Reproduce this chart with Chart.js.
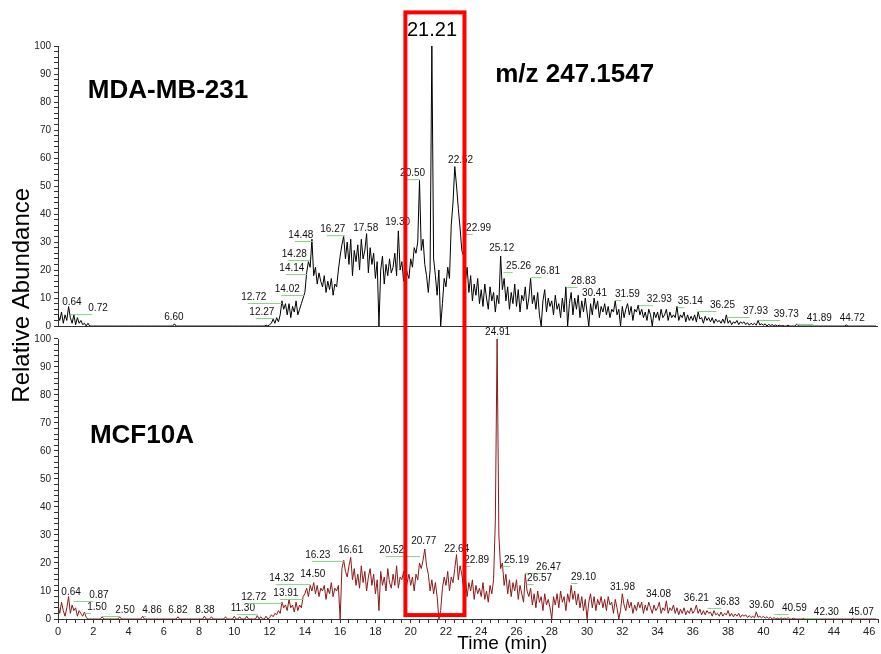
<!DOCTYPE html>
<html>
<head>
<meta charset="utf-8">
<script src="https://cdn.jsdelivr.net/npm/chart.js@4.4.1/dist/chart.umd.min.js"></script>
<style>
  html, body { margin: 0; padding: 0; background: #fff; }
  #wrap { width: 881px; height: 654px; }
</style>
</head>
<body>
<div id="wrap"><canvas id="myChart" width="881" height="654"></canvas></div>
<script>
// retention time grid (min), one row per minute
const times = [
  0.0, 0.1, 0.2, 0.3, 0.4, 0.5, 0.6, 0.7, 0.8, 0.9,
  1.0, 1.1, 1.2, 1.3, 1.4, 1.5, 1.6, 1.7, 1.8, 1.9,
  2.0, 2.1, 2.2, 2.3, 2.4, 2.5, 2.6, 2.7, 2.8, 2.9,
  3.0, 3.1, 3.2, 3.3, 3.4, 3.5, 3.6, 3.7, 3.8, 3.9,
  4.0, 4.1, 4.2, 4.3, 4.4, 4.5, 4.6, 4.7, 4.8, 4.9,
  5.0, 5.1, 5.2, 5.3, 5.4, 5.5, 5.6, 5.7, 5.8, 5.9,
  6.0, 6.1, 6.2, 6.3, 6.4, 6.5, 6.6, 6.7, 6.8, 6.9,
  7.0, 7.1, 7.2, 7.3, 7.4, 7.5, 7.6, 7.7, 7.8, 7.9,
  8.0, 8.1, 8.2, 8.3, 8.4, 8.5, 8.6, 8.7, 8.8, 8.9,
  9.0, 9.1, 9.2, 9.3, 9.4, 9.5, 9.6, 9.7, 9.8, 9.9,
  10.0, 10.1, 10.2, 10.3, 10.4, 10.5, 10.6, 10.7, 10.8, 10.9,
  11.0, 11.1, 11.2, 11.3, 11.4, 11.5, 11.6, 11.7, 11.8, 11.9,
  12.0, 12.1, 12.2, 12.3, 12.4, 12.5, 12.6, 12.7, 12.8, 12.9,
  13.0, 13.1, 13.2, 13.3, 13.4, 13.5, 13.6, 13.7, 13.8, 13.9,
  14.0, 14.1, 14.2, 14.3, 14.4, 14.5, 14.6, 14.7, 14.8, 14.9,
  15.0, 15.1, 15.2, 15.3, 15.4, 15.5, 15.6, 15.7, 15.8, 15.9,
  16.0, 16.1, 16.2, 16.3, 16.4, 16.5, 16.6, 16.7, 16.8, 16.9,
  17.0, 17.1, 17.2, 17.3, 17.4, 17.5, 17.6, 17.7, 17.8, 17.9,
  18.0, 18.1, 18.2, 18.3, 18.4, 18.5, 18.6, 18.7, 18.8, 18.9,
  19.0, 19.1, 19.2, 19.3, 19.4, 19.5, 19.6, 19.7, 19.8, 19.9,
  20.0, 20.1, 20.2, 20.3, 20.4, 20.5, 20.6, 20.7, 20.8, 20.9,
  21.0, 21.1, 21.2, 21.3, 21.4, 21.5, 21.6, 21.7, 21.8, 21.9,
  22.0, 22.1, 22.2, 22.3, 22.4, 22.5, 22.6, 22.7, 22.8, 22.9,
  23.0, 23.1, 23.2, 23.3, 23.4, 23.5, 23.6, 23.7, 23.8, 23.9,
  24.0, 24.1, 24.2, 24.3, 24.4, 24.5, 24.6, 24.7, 24.8, 24.9,
  25.0, 25.1, 25.2, 25.3, 25.4, 25.5, 25.6, 25.7, 25.8, 25.9,
  26.0, 26.1, 26.2, 26.3, 26.4, 26.5, 26.6, 26.7, 26.8, 26.9,
  27.0, 27.1, 27.2, 27.3, 27.4, 27.5, 27.6, 27.7, 27.8, 27.9,
  28.0, 28.1, 28.2, 28.3, 28.4, 28.5, 28.6, 28.7, 28.8, 28.9,
  29.0, 29.1, 29.2, 29.3, 29.4, 29.5, 29.6, 29.7, 29.8, 29.9,
  30.0, 30.1, 30.2, 30.3, 30.4, 30.5, 30.6, 30.7, 30.8, 30.9,
  31.0, 31.1, 31.2, 31.3, 31.4, 31.5, 31.6, 31.7, 31.8, 31.9,
  32.0, 32.1, 32.2, 32.3, 32.4, 32.5, 32.6, 32.7, 32.8, 32.9,
  33.0, 33.1, 33.2, 33.3, 33.4, 33.5, 33.6, 33.7, 33.8, 33.9,
  34.0, 34.1, 34.2, 34.3, 34.4, 34.5, 34.6, 34.7, 34.8, 34.9,
  35.0, 35.1, 35.2, 35.3, 35.4, 35.5, 35.6, 35.7, 35.8, 35.9,
  36.0, 36.1, 36.2, 36.3, 36.4, 36.5, 36.6, 36.7, 36.8, 36.9,
  37.0, 37.1, 37.2, 37.3, 37.4, 37.5, 37.6, 37.7, 37.8, 37.9,
  38.0, 38.1, 38.2, 38.3, 38.4, 38.5, 38.6, 38.7, 38.8, 38.9,
  39.0, 39.1, 39.2, 39.3, 39.4, 39.5, 39.6, 39.7, 39.8, 39.9,
  40.0, 40.1, 40.2, 40.3, 40.4, 40.5, 40.6, 40.7, 40.8, 40.9,
  41.0, 41.1, 41.2, 41.3, 41.4, 41.5, 41.6, 41.7, 41.8, 41.9,
  42.0, 42.1, 42.2, 42.3, 42.4, 42.5, 42.6, 42.7, 42.8, 42.9,
  43.0, 43.1, 43.2, 43.3, 43.4, 43.5, 43.6, 43.7, 43.8, 43.9,
  44.0, 44.1, 44.2, 44.3, 44.4, 44.5, 44.6, 44.7, 44.8, 44.9,
  45.0, 45.1, 45.2, 45.3, 45.4, 45.5, 45.6, 45.7, 45.8, 45.9,
  46.0, 46.1, 46.2, 46.3, 46.4
];

// relative abundance, MDA-MB-231 (top trace)
const mdaValues = [
  4, 2, 5, 1, 4, 2, 7, 3, 1, 4,
  0.5, 3, 1, 2, 0.5, 1, 0, 1, 0, 0,
  0, 0, 0, 0, 0, 0, 0, 0, 0, 0,
  0, 0, 0, 0, 0, 0, 0, 0, 0, 0,
  0, 0, 0, 0, 0, 0, 0, 0, 0, 0,
  0, 0, 0, 0, 0, 0, 0, 0, 0, 0,
  0, 0, 0, 0, 0, 0, 0.8, 0, 0, 0,
  0, 0, 0, 0, 0, 0, 0, 0, 0, 0,
  0, 0, 0, 0, 0, 0, 0, 0, 0, 0,
  0, 0, 0, 0, 0, 0, 0, 0, 0, 0,
  0, 0, 0, 0, 0, 0, 0, 0, 0, 0,
  0, 0, 0, 0, 0, 0, 0, 0, 0.3, 0,
  0.5, 1, 2.5, 1, 3, 1.5, 4, 9, 6, 8,
  4, 8, 3, 7, 5, 9, 4, 6, 8, 10,
  12, 19, 23, 21, 31, 18, 21, 15, 19, 16,
  14, 18, 12, 16, 13, 17, 11, 15, 14, 20,
  25, 29, 32, 24, 30, 22, 31, 18, 27, 23,
  29, 20, 31, 24, 27, 33, 19, 28, 22, 26,
  17, 23, 0, 20, 25, 15, 22, 18, 24, 19,
  21, 26, 18, 34, 20, 23, 16, 22, 19, 17,
  24, 21, 28, 26, 30, 52, 27, 31, 22, 18,
  12, 20, 100, 24, 18, 11, 20, 0, 8, 17,
  14, 21, 17, 36, 44, 57, 50, 42, 35, 27,
  25, 16, 21, 12, 18, 9, 15, 11, 17, 8,
  13, 7, 15, 10, 6, 14, 9, 12, 5, 11,
  8, 25, 13, 17, 9, 14, 6, 12, 8, 15,
  7, 13, 5, 11, 9, 14, 6, 10, 17, 8,
  11, 6, 12, 4, 0, 9, 13, 5, 10, 7,
  9, 4, 11, 6, 8, 3, 10, 5, 14, 0,
  8, 12, 4, 10, 6, 11, 3, 9, 5, 10,
  5, 0, 8, 4, 10, 6, 9, 3, 7, 5,
  8, 4, 7, 3, 6, 5, 9, 4, 6, 0,
  7, 3, 6, 8, 4, 7, 2, 6, 5, 7.5,
  4, 6, 3, 5, 2, 6, 4, 0, 5, 3,
  5, 2, 6, 3, 4, 6, 2, 5, 3, 4,
  3, 7, 2, 4, 3, 5, 1.5, 4, 2, 3.5,
  2, 4, 1.5, 5, 2.5, 3, 1, 3.5, 2, 3,
  1.5, 3, 1, 2.5, 1.5, 2, 1, 2.5, 1, 4,
  1, 2, 0.5, 1.5, 1, 2, 0.5, 1.5, 1, 1.5,
  0.5, 1.2, 0.3, 1, 0.5, 1, 0.3, 2, 0.4, 0.8,
  0.3, 0.8, 0, 0.6, 0.2, 0.5, 0, 0.4, 0, 0.3,
  0, 0.2, 0, 0, 0.3, 0, 0, 0, 0, 0.8,
  0, 0, 0, 0, 0, 0, 0, 0, 0, 0,
  0, 0, 0, 0, 0, 0, 0, 0, 0, 0,
  0, 0, 0, 0, 0, 0, 0, 0.4, 0, 0,
  0, 0, 0, 0, 0, 0, 0, 0, 0, 0,
  0, 0, 0, 0, 0
];

// relative abundance, MCF10A (bottom trace)
const mcfValues = [
  5, 2, 6, 3, 1, 4, 8, 2, 5, 3,
  4, 1, 3, 2, 1, 2.5, 0.5, 0, 0, 0,
  0, 0, 0, 0, 0, 0.8, 0, 0, 0, 0,
  0, 0, 0, 0, 0, 0.8, 0, 0, 0, 0,
  0, 0, 0, 0, 0, 0, 0, 0, 1, 0,
  0, 0, 0, 0, 0, 0, 0, 0, 0, 0,
  0, 0, 0, 0, 0, 0, 0, 0, 0.8, 0,
  0, 0, 0, 0, 0, 0, 0, 0, 0, 0,
  0, 0, 0, 1, 0, 0, 0, 0.8, 0, 0,
  0, 0, 0, 0, 0, 0.8, 0, 0, 0, 0,
  1, 0, 0, 0.8, 0, 0, 0, 1, 0, 0,
  0, 0, 0, 1.2, 0, 0.8, 0, 0, 1, 0,
  0.5, 1.5, 0.8, 2, 1.5, 3, 2, 6, 4, 5,
  3, 7, 4, 5, 2.5, 6, 3, 5, 4, 8,
  9, 11, 8, 12, 10, 13, 9, 12, 8, 11,
  10, 12, 7, 11, 9, 13, 8, 11, 10, 12,
  0, 18, 21, 17, 15, 19, 22, 14, 18, 12,
  16, 11, 19, 13, 17, 10, 15, 18, 12, 16,
  9, 14, 3, 17, 12, 15, 10, 18, 13, 11,
  16, 12, 19, 11, 15, 14, 17, 10, 13, 16,
  12, 15, 10, 16, 14, 20, 18, 21, 25, 19,
  16, 10, 14, 9, 13, 8, 0, 3, 11, 15,
  12, 17, 10, 15, 13, 18, 23, 14, 19, 16,
  11, 15, 8, 13, 10, 14, 7, 12, 9, 11,
  8, 13, 7, 10, 6, 12, 9, 14, 35, 100,
  30, 18, 20, 12, 16, 9, 14, 8, 13, 10,
  14, 7, 12, 9, 6, 16, 10, 8, 11, 5,
  9, 4, 10, 6, 8, 3, 9, 5, 7, 4,
  0, 8, 5, 9, 4, 10, 6, 8, 3, 9,
  6, 12, 7, 10, 5, 9, 4, 8, 3, 7,
  0, 6, 9, 4, 8, 3, 7, 5, 8, 4,
  7, 3, 8, 5, 6, 2, 7, 4, 0, 3,
  9, 5, 3, 7, 4, 6, 2, 5, 3, 6,
  4, 6, 2, 5, 3, 6, 4, 2, 5, 3,
  4, 6, 2, 4, 3, 6.5, 2, 4, 3, 5,
  2, 4, 1.5, 3.5, 2, 4, 1.5, 3, 2, 4,
  2, 3, 5, 2, 3.5, 1.5, 3, 1.5, 3, 2,
  2.5, 1, 3, 1.5, 2, 1, 2.5, 1, 2, 1.5,
  3, 1, 2, 0.8, 1.8, 1, 2, 0.6, 1.5, 1,
  1.5, 0.5, 1.2, 0.5, 1, 0.4, 2.5, 0.6, 1, 0.4,
  1, 0.3, 0.8, 0.2, 0.6, 0, 0.5, 0, 0.3, 0,
  0.4, 0, 0.3, 0, 0.5, 0, 0, 0.3, 0, 0,
  0, 0, 0, 0.3, 0, 0, 0, 0, 0, 0,
  0, 0, 0, 0, 0, 0, 0, 0, 0, 0,
  0, 0, 0, 0, 0, 0, 0, 0, 0, 0,
  0, 0.3, 0, 0, 0, 0, 0, 0, 0, 0,
  0, 0, 0, 0, 0
];

// peak annotations: retention time, and where the label sits (min, abundance)
const mdaPeakRt = [0.64, 0.72, 6.60, 12.27, 12.72, 14.02, 14.14, 14.28, 14.48, 16.27, 17.58, 19.30, 20.50, 22.52,
  22.99, 25.12, 25.26, 26.81, 28.83, 30.41, 31.59, 32.93, 35.14, 36.25, 37.93, 39.73, 41.89, 44.72];
const mdaLabelRt = [0.79, 2.27, 6.57, 11.56, 11.10, 13.0, 13.26, 13.4, 13.77, 15.58, 17.45, 19.26, 20.11, 22.83,
  23.85, 25.16, 26.12, 27.76, 29.80, 30.42, 32.29, 34.10, 35.86, 37.68, 39.55, 41.30, 43.17, 45.04];
const mdaLabelAb = [8.6, 6.4, 3.2, 5.0, 10.4, 13.2, 20.7, 25.7, 32.5, 34.6, 35.0, 37.1, 54.6, 59.3,
  35.0, 27.9, 21.4, 19.6, 16.1, 11.8, 11.4, 9.6, 8.9, 7.5, 5.4, 4.3, 2.9, 2.9];

const mcfPeakRt = [0.64, 0.87, 1.50, 2.50, 4.86, 6.82, 8.38, 11.30, 12.72, 13.91, 14.32, 14.50, 16.23, 16.61, 20.52, 20.77,
  22.64, 22.89, 24.91, 25.19, 26.47, 26.57, 29.10, 31.98, 34.08, 36.21, 36.83, 39.60, 40.59, 42.30, 45.07];
const mcfLabelRt = [0.74, 2.32, 2.21, 3.80, 5.33, 6.80, 8.33, 10.48, 11.10, 12.92, 12.69, 14.45, 14.73, 16.60, 18.92, 20.74,
  22.61, 23.74, 24.93, 26.00, 27.82, 27.31, 29.80, 32.01, 34.05, 36.20, 37.96, 39.89, 41.76, 43.57, 45.55];
const mcfLabelAb = [9.6, 8.6, 4.3, 3.2, 3.2, 3.2, 3.2, 3.9, 7.9, 9.3, 14.6, 16.1, 22.9, 24.6, 24.6, 27.9,
  25.0, 21.1, 102.5, 21.1, 18.6, 14.6, 15.0, 11.4, 8.9, 7.5, 6.1, 5.0, 3.9, 2.5, 2.5];

// highlighted window around the 21.21 min peak
const windowStart = 19.7;
const windowEnd = 23.05;

const FONT = "'Liberation Sans', Arial, sans-serif";
Chart.defaults.font.family = FONT;

function drawPeakLabels(ctx, xs, ys, rts, labRt, labAb) {
  ctx.font = '10px ' + FONT;
  ctx.textAlign = 'center';
  ctx.textBaseline = 'middle';
  rts.forEach((rt, i) => {
    const px = xs.getPixelForValue(rt);
    const lx = xs.getPixelForValue(labRt[i]);
    const ly = ys.getPixelForValue(labAb[i]);
    if (Math.abs(px - lx) > 3) {
      ctx.strokeStyle = '#86cf86';
      ctx.lineWidth = 1;
      ctx.beginPath();
      ctx.moveTo(lx - 6, ly + 6.5);
      ctx.lineTo(px, ly + 6.5);
      ctx.stroke();
    }
    ctx.fillStyle = '#111';
    ctx.fillText(rt.toFixed(2), lx, ly);
  });
}

const overlay = {
  id: 'overlay',
  afterDraw(chart) {
    const { ctx, chartArea } = chart;
    const xs = chart.scales.x, yt = chart.scales.yTop, yb = chart.scales.yBottom;
    ctx.save();

    // left axis line of the lower panel
    const ax = Math.round(chartArea.left) + 0.5;
    ctx.strokeStyle = '#333';
    ctx.lineWidth = 1;
    ctx.beginPath();
    ctx.moveTo(ax, yb.getPixelForValue(100));
    ctx.lineTo(ax, yb.getPixelForValue(0));
    ctx.stroke();

    drawPeakLabels(ctx, xs, yt, mdaPeakRt, mdaLabelRt, mdaLabelAb);
    drawPeakLabels(ctx, xs, yb, mcfPeakRt, mcfLabelRt, mcfLabelAb);

    ctx.fillStyle = '#000';
    ctx.textAlign = 'center';
    ctx.textBaseline = 'middle';
    ctx.font = 'bold 26px ' + FONT;
    ctx.fillText('MDA-MB-231', xs.getPixelForValue(6.24), yt.getPixelForValue(83.9));
    ctx.fillText('m/z 247.1547', xs.getPixelForValue(29.3), yt.getPixelForValue(89.6));
    ctx.fillText('MCF10A', xs.getPixelForValue(4.76), yb.getPixelForValue(65.4));

    ctx.font = '20px ' + FONT;
    ctx.fillText('21.21', xs.getPixelForValue(21.21), yt.getPixelForValue(105.7));

    ctx.font = '19px ' + FONT;
    ctx.fillText('Time (min)', xs.getPixelForValue(25.2), chartArea.bottom + 25);

    ctx.save();
    ctx.translate(22, yt.getPixelForValue(11));
    ctx.rotate(-Math.PI / 2);
    ctx.font = '24px ' + FONT;
    ctx.fillText('Relative Abundance', 0, 0);
    ctx.restore();

    // red box
    ctx.strokeStyle = '#ff0000';
    ctx.lineWidth = 4;
    const x0 = xs.getPixelForValue(windowStart), x1 = xs.getPixelForValue(windowEnd);
    const y0 = yt.getPixelForValue(112), y1 = yb.getPixelForValue(1.4);
    ctx.strokeRect(x0, y0, x1 - x0, y1 - y0);
    ctx.restore();
  }
};

const yTicks = (hideAbove) => ({
  stepSize: 2,
  maxTicksLimit: 1000,
  autoSkip: false,
  includeBounds: false,
  padding: 3,
  color: '#222',
  font: { size: 10 },
  callback: v => (v > hideAbove ? null : (v % 10 === 0 ? String(v) : ''))
});

const ctx = document.getElementById('myChart');
const myChart = new Chart(ctx, {
  type: 'line',
  data: {
    datasets: [
      {
        label: 'MDA-MB-231',
        data: times.map((t, i) => ({ x: t, y: mdaValues[i] })),
        yAxisID: 'yTop',
        borderColor: '#000000',
        borderWidth: 1,
        pointRadius: 0,
        tension: 0
      }, {
        label: 'MCF10A',
        data: times.map((t, i) => ({ x: t, y: mcfValues[i] })),
        yAxisID: 'yBottom',
        borderColor: '#8b1a1a',
        borderWidth: 1,
        pointRadius: 0,
        tension: 0
      }
    ]
  },
  options: {
    responsive: false,
    animation: false,
    layout: { padding: { left: 18, top: 46, right: 3, bottom: 0 } },
    plugins: { legend: { display: false }, tooltip: { enabled: false } },
    scales: {
      x: {
        type: 'linear',
        min: 0,
        max: 46.5,
        z: 1,
        afterFit: s => { s.height = 35; },
        border: { color: '#333' },
        grid: { drawOnChartArea: false, tickLength: 4, tickColor: '#333' },
        ticks: {
          stepSize: 0.5,
          maxTicksLimit: 1000,
          autoSkip: false,
          maxRotation: 0,
          padding: 2,
          color: '#222',
          font: { size: 11 },
          callback: v => (v % 2 === 0 ? String(v) : '')
        }
      },
      yTop: {
        type: 'linear',
        position: 'left',
        stack: 'panels',
        stackWeight: 100,
        weight: 1,
        min: 0,
        max: 100,
        z: 1,
        afterFit: s => { s.width = 40; },
        border: { color: '#333' },
        grid: {
          tickLength: 4,
          tickColor: '#333',
          color: c => (c.tick && c.tick.value === 0 ? '#333' : 'rgba(0,0,0,0)')
        },
        ticks: yTicks(100)
      },
      yBottom: {
        type: 'linear',
        position: 'left',
        stack: 'panels',
        stackWeight: 104.6,
        weight: 0,
        min: 0,
        max: 104.6,
        z: 1,
        afterFit: s => { s.width = 40; },
        border: { display: false },
        grid: { drawOnChartArea: false, tickLength: 4, tickColor: '#333' },
        ticks: yTicks(100)
      }
    }
  },
  plugins: [overlay]
});
</script>
</body>
</html>
